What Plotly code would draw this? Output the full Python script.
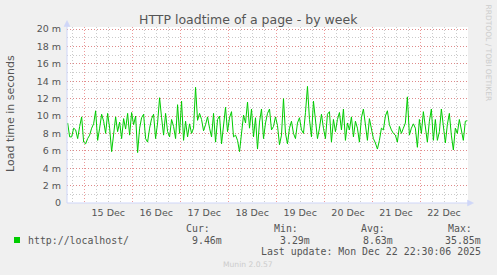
import plotly.graph_objects as go
import pandas as pd

# ---------------- data (load time in milliseconds, hourly) ----------------
load_ms = [
    9.2, 7.6, 7.6, 8.6, 8.4, 7.4, 8.8, 9.9, 7.0, 6.8,
    7.4, 7.8, 8.6, 9.1, 10.6, 7.2, 8.6, 10.2, 9.4, 8.0,
    10.3, 8.6, 5.9, 7.6, 9.9, 8.2, 9.3, 7.4, 9.7, 8.5,
    10.3, 7.8, 10.4, 9.0,
    10.0, 5.8, 8.6, 9.8, 10.2, 7.4, 7.0, 8.6, 9.7, 10.2,
    7.4, 9.2, 12.1, 9.8, 7.8, 10.3, 8.2, 7.6, 9.6, 8.8,
    7.4, 11.3, 8.0, 11.7, 7.2, 9.4, 7.6, 9.1, 8.0, 8.6,
    13.3, 9.5, 10.3,
    9.6, 8.3, 9.0, 9.9, 8.6, 7.6, 10.3, 7.0, 9.6, 10.0,
    6.8, 8.6, 11.0, 8.2, 9.8, 10.5, 7.6, 7.8, 7.2, 5.9,
    7.8, 10.1, 9.2, 11.6, 8.6, 10.8, 7.6, 9.8, 6.2, 9.3,
    10.8, 7.4, 9.2, 10.3,
    10.8, 8.4, 8.8, 9.9, 8.9, 6.7, 7.8, 12.0, 8.0, 6.8,
    8.6, 9.4, 8.0, 7.4, 9.2, 9.8, 8.4, 8.0, 10.4, 13.4,
    9.6, 7.6, 11.7, 9.4, 7.4, 8.6, 10.2, 8.6, 7.4, 10.2,
    10.5, 7.0, 9.6, 8.2,
    9.6, 10.4, 8.4, 10.8, 7.2, 9.2, 8.4, 9.9, 7.6, 9.4,
    8.6, 7.0, 9.8, 10.8, 8.6, 7.2, 9.7, 8.4, 7.4, 6.9,
    6.2, 7.2, 8.6, 8.4, 10.0, 10.6, 9.0, 8.4, 8.0, 7.8,
    7.0, 8.8, 8.0, 8.6,
    9.2, 12.2, 7.8, 8.6, 9.1, 8.6, 6.4, 9.6, 8.0, 10.5,
    8.6, 7.0, 9.4, 10.8, 7.2, 9.6, 7.2, 8.2, 10.8, 8.8,
    6.9, 9.0, 10.3, 7.8, 6.1, 8.6, 8.0, 9.6, 8.4, 7.2,
    9.4, 9.46,
]
start_time = "2025-12-14 15:40"
x_range = ["2025-12-14 15:20", "2025-12-23 00:00"]

y_tickvals = [0, 2, 4, 6, 8, 10, 12, 14, 16, 18, 20]
y_ticktext = ["0", "2 m", "4 m", "6 m", "8 m", "10 m", "12 m", "14 m", "16 m", "18 m", "20 m"]

title_text = "HTTP loadtime of a page - by week"
y_title = "Load time in seconds"
series_name = "http://localhost/"
stat_labels = ["Cur:", "Min:", "Avg:", "Max:"]
stat_values = ["9.46m", "3.29m", "8.63m", "35.85m"]
last_update = "Last update: Mon Dec 22 22:30:06 2025"
side_text = "RRDTOOL / TOBI OETIKER"
footer = "Munin 2.0.57"

times = pd.date_range(start_time, periods=len(load_ms), freq="h")

# ---------------- layout geometry ----------------
W, H = 497, 275
L, R, T, B = 67, 468, 27, 203
PX_PER_MS = 8.7
y_max = (B - T) / PX_PER_MS


def px(x, y):
    return (x - L) / (R - L), (B - y) / (B - T)


FONT = "DejaVu Sans"
MONO = "DejaVu Sans Mono"
TXT = "#555555"
AXIS = "#CFD6F8"
MAJ = "rgba(230,110,110,0.7)"
MIN = "rgba(160,160,160,0.55)"
GREEN = "#00CC00"

fig = go.Figure()
fig.add_trace(go.Scatter(
    x=times, y=load_ms, mode="lines",
    line=dict(color=GREEN, width=1), hoverinfo="skip", showlegend=False,
))

fig.update_layout(
    width=W, height=H,
    margin=dict(l=L, r=W - R, t=T, b=H - B, pad=0),
    paper_bgcolor="#F0F0F0", plot_bgcolor="#FFFFFF",
    showlegend=False,
    font=dict(family=FONT, color=TXT, size=10),
)

fig.update_xaxes(
    type="date", range=x_range,
    tick0="2025-12-15", dtick=86400000, tickformat="%d %b",
    ticklabelmode="period", ticks="", ticklabelstandoff=2,
    tickfont=dict(family=FONT, size=9.5, color=TXT),
    showgrid=True, gridcolor=MAJ, griddash="1px,2px", gridwidth=1,
    minor=dict(tick0="2025-12-15", dtick=21600000, showgrid=True,
               gridcolor=MIN, griddash="1px,2px", gridwidth=1),
    zeroline=False, showline=False, fixedrange=True,
)
fig.update_yaxes(
    range=[0, y_max], tickmode="array", tickvals=y_tickvals, ticktext=y_ticktext,
    ticks="", ticklabelstandoff=5,
    tickfont=dict(family=FONT, size=9.5, color=TXT),
    showgrid=True, gridcolor=MAJ, griddash="1px,2px", gridwidth=1,
    minor=dict(tick0=0, dtick=1, showgrid=True,
               gridcolor=MIN, griddash="1px,2px", gridwidth=1),
    zeroline=False, showline=False, fixedrange=True,
)

shapes = []
# axis lines and arrows
x0, y0 = px(67, 203)
x1, y1 = px(67, 26)
shapes.append(dict(type="line", xref="paper", yref="paper", x0=x0, y0=y0, x1=x1, y1=y1,
                   line=dict(color=AXIS, width=1), layer="above"))
x2, y2 = px(469, 203)
shapes.append(dict(type="line", xref="paper", yref="paper", x0=x0, y0=y0, x1=x2, y1=y2,
                   line=dict(color=AXIS, width=1), layer="above"))


def tri(points):
    p = [px(a, b) for a, b in points]
    return "M {} {} L {} {} L {} {} Z".format(p[0][0], p[0][1], p[1][0], p[1][1], p[2][0], p[2][1])


shapes.append(dict(type="path", xref="paper", yref="paper",
                   path=tri([(67, 20.5), (64, 26.5), (70, 26.5)]),
                   fillcolor=AXIS, line=dict(color=AXIS, width=0.5), layer="above"))
shapes.append(dict(type="path", xref="paper", yref="paper",
                   path=tri([(473.5, 203), (467.5, 200), (467.5, 206)]),
                   fillcolor=AXIS, line=dict(color=AXIS, width=0.5), layer="above"))
# legend swatch
sx0, sy0 = px(14, 243)
sx1, sy1 = px(20, 237)
shapes.append(dict(type="rect", xref="paper", yref="paper", x0=sx0, y0=sy0, x1=sx1, y1=sy1,
                   fillcolor=GREEN, line=dict(width=0)))
fig.update_layout(shapes=shapes)

ann = []


def text(x, y, s, size, color=TXT, family=FONT, xanchor="left", angle=0):
    xp, yp = px(x, y)
    ann.append(dict(x=xp, y=yp, xref="paper", yref="paper", text=s, showarrow=False,
                    xanchor=xanchor, yanchor="middle", textangle=angle,
                    font=dict(family=family, size=size, color=color), borderpad=0))


text(248, 19.5, title_text, 12.5, xanchor="center")
text(11, 114, y_title, 11, xanchor="center", angle=-90)
text(488.5, 53, side_text, 7.5, color="#CCCCCC", xanchor="center", angle=90)

text(27, 240, series_name, 9.9, family=MONO)
label_x = [185, 273, 360, 447]
value_x = [191, 279, 362, 444]
for lx, lab in zip(label_x, stat_labels):
    text(lx, 228, lab, 9.9, family=MONO)
for vx, val in zip(value_x, stat_values):
    text(vx, 240, val, 9.9, family=MONO)
text(482, 251, last_update, 9.9, family=MONO, xanchor="right")
text(248, 264.5, footer, 7.6, color="#CCCCCC", xanchor="center")

fig.update_layout(annotations=ann)

fig.write_html("out.html")
